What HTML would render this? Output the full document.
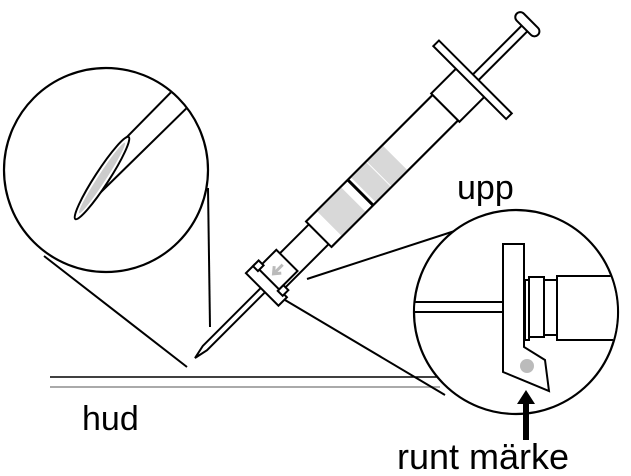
<!DOCTYPE html>
<html><head><meta charset="utf-8"><style>
html,body{margin:0;padding:0;background:#fff;}
svg{display:block;}
text{font-family:"Liberation Sans","DejaVu Sans",sans-serif;fill:#000;}
</style></head><body>
<svg width="631" height="476" viewBox="0 0 631 476" xmlns="http://www.w3.org/2000/svg">
<defs>
<clipPath id="rc"><circle cx="516" cy="312" r="101"/></clipPath>
<clipPath id="lc"><circle cx="106" cy="170" r="101"/></clipPath>
</defs>
<line x1="50" y1="377" x2="440" y2="377" stroke="#000" stroke-width="1.5"/>
<line x1="50" y1="387" x2="440" y2="387" stroke="#aaa" stroke-width="2"/>
<line x1="44" y1="256" x2="187" y2="367" stroke="#000" stroke-width="2"/>
<line x1="208" y1="188" x2="210" y2="327" stroke="#000" stroke-width="2"/>
<line x1="307" y1="279" x2="470" y2="226" stroke="#000" stroke-width="2"/>
<line x1="285" y1="300" x2="445" y2="395" stroke="#000" stroke-width="2"/>
<circle cx="106" cy="170" r="102" fill="#fff" stroke="#000" stroke-width="2.2"/>
<g clip-path="url(#lc)">
<line x1="185" y1="78" x2="124" y2="140" stroke="#000" stroke-width="2"/>
<line x1="198" y1="97" x2="100" y2="193" stroke="#000" stroke-width="2"/>
<ellipse cx="102" cy="178" rx="49" ry="7" transform="rotate(-57 102 178)" fill="#fff" stroke="#000" stroke-width="2"/>
<ellipse cx="102" cy="178" rx="42" ry="4" transform="rotate(-57 102 178)" fill="#ccc"/>
</g>
<g transform="translate(195,358) rotate(-45)" stroke="#000" stroke-width="2" fill="#fff">
<polygon points="0,0 14,-3 100,-3 100,3 14,3"/>
<rect x="110" y="-14" width="65" height="28"/>
<rect x="175" y="-18" width="179" height="36"/>
<rect x="190" y="-17" width="34" height="34" fill="#d8d8d8" stroke="none"/>
<rect x="238" y="-17" width="45" height="34" fill="#d8d8d8" stroke="none"/>
<line x1="260" y1="-17" x2="260" y2="17" stroke="#fff" stroke-width="1"/>
<line x1="175" y1="-18" x2="354" y2="-18"/>
<line x1="175" y1="18" x2="354" y2="18"/>
<line x1="234" y1="-18" x2="234" y2="18" stroke-width="3"/>
<rect x="354" y="-20" width="36" height="40"/>
<rect x="390" y="-4" width="77" height="8"/>
<rect x="389" y="-52" width="8" height="103"/>
<rect x="466" y="-16" width="10" height="30" rx="5"/>
<rect x="106" y="-19" width="28" height="30"/>
<rect x="96" y="-24" width="12" height="46"/>
<rect x="106" y="-24" width="8" height="7"/>
<rect x="106" y="11" width="8" height="7"/>
<path d="M128,-4 L116,-4 M121,-9 L115,-4 L121,1" stroke="#bbb" stroke-width="3" fill="none"/>
</g>
<circle cx="516" cy="312" r="102" fill="#fff" stroke="#000" stroke-width="2.2"/>
<g clip-path="url(#rc)" stroke="#000" stroke-width="2" fill="#fff">
<rect x="400" y="302" width="104" height="10"/>
<rect x="525" y="280" width="4" height="60"/>
<rect x="529" y="277" width="15" height="60"/>
<rect x="544" y="280" width="13" height="55"/>
<rect x="557" y="276" width="70" height="64"/>
<polygon points="503,244 524,244 524,347 545,360 549,391 503,372"/>
<circle cx="527" cy="366" r="7" fill="#bbb" stroke="none"/>
</g>
<polygon points="526,390 517,404 523,404 523,440 529,440 529,404 535,404" fill="#000"/>
<text x="457" y="199" font-size="34">upp</text>
<text x="82" y="430" font-size="34">hud</text>
<text x="397" y="469" font-size="36">runt märke</text>
</svg>
</body></html>
